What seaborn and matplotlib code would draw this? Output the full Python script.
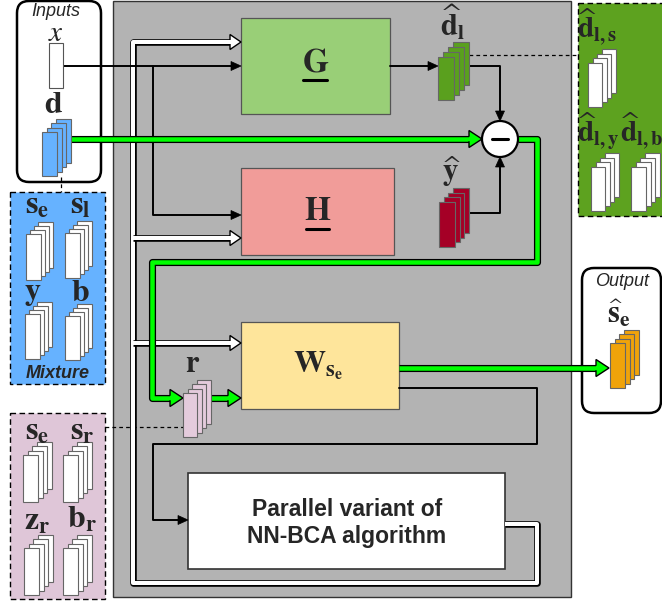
import numpy as np
import matplotlib
matplotlib.use("Agg")
import matplotlib.pyplot as plt
import matplotlib.patheffects as pe
from matplotlib.patches import Rectangle, FancyBboxPatch, Circle, Polygon
import seaborn as sns

# labels shown in the diagram
input_labels = ["Inputs", r"$x$", r"$\mathbf{d}$"]
mixture_labels = [r"$\mathbf{s}_\mathbf{e}$", r"$\mathbf{s}_\mathbf{l}$",
                  r"$\mathbf{y}$", r"$\mathbf{b}$"]
mixture_title = "Mixture"
ref_labels = [r"$\mathbf{s}_\mathbf{e}$", r"$\mathbf{s}_\mathbf{r}$",
              r"$\mathbf{z}_\mathbf{r}$", r"$\mathbf{b}_\mathbf{r}$"]
dl_labels = [r"$\widehat{\mathbf{d}}_\mathbf{l,s}$", r"$\widehat{\mathbf{d}}_\mathbf{l,y}$",
             r"$\widehat{\mathbf{d}}_\mathbf{l,b}$"]
block_labels = [r"$\mathbf{G}$", r"$\mathbf{H}$", r"$\mathbf{W}_{\mathbf{s}_\mathbf{e}}$"]
est_labels = [r"$\widehat{\mathbf{d}}_\mathbf{l}$", r"$\widehat{\mathbf{y}}$", r"$\mathbf{r}$"]
output_labels = ["Output", r"$\widehat{\mathbf{s}}_\mathbf{e}$"]
algo_label = "Parallel variant of\nNN-BCA algorithm"

sns.set_theme(style="white")
plt.rcParams["font.family"] = ["Liberation Sans", "DejaVu Sans"]
plt.rcParams["mathtext.fontset"] = "stix"

fig = plt.figure(figsize=(6.62, 6.01), dpi=100)
ax = fig.add_axes([0, 0, 1, 1])
ax.set_xlim(0, 662)
ax.set_ylim(601, 0)
ax.axis("off")

PX = 0.72  # points per pixel
GREEN = "#00ff00"


def stack(x, y, w, h, color, n=4, step=4.5, ec="#666666"):
    for i in reversed(range(n)):
        ax.add_patch(Rectangle((x + i * step, y - i * step), w, h, fc=color,
                               ec=ec, lw=0.8, zorder=6))


def head(p0, p1, fill, hl, hw, shaft, lw=1.0, z=5):
    d = (p1 - p0) / np.linalg.norm(p1 - p0)
    n = np.array([-d[1], d[0]])
    b = p1 - d * hl
    pts = [b + n * shaft / 2, b + n * hw / 2, p1, b - n * hw / 2, b - n * shaft / 2]
    ax.add_patch(Polygon(pts, closed=False, fc=fill, ec="black", lw=lw,
                         joinstyle="miter", zorder=z))
    return b


def fat(pts, fill, w=4.5, hl=13, hw=17, arrow=True, z=4):
    pts = np.array(pts, float)
    line = pts.copy()
    if arrow:
        b = head(pts[-2], pts[-1], fill, hl, hw, w, z=z + 0.5)
        d = (pts[-1] - pts[-2]) / np.linalg.norm(pts[-1] - pts[-2])
        line[-1] = b + d * 1.5
    ax.plot(line[:, 0], line[:, 1], color=fill, lw=w * PX, solid_capstyle="butt",
            solid_joinstyle="round", zorder=z,
            path_effects=[pe.Stroke(linewidth=(w + 2.6) * PX, foreground="black"),
                          pe.Normal()])


def thin(pts, arrow=True):
    pts = np.array(pts, float)
    line = pts.copy()
    if arrow:
        d = (pts[-1] - pts[-2]) / np.linalg.norm(pts[-1] - pts[-2])
        n = np.array([-d[1], d[0]])
        b = pts[-1] - d * 10
        ax.add_patch(Polygon([pts[-1], b + n * 4.5, b - n * 4.5], fc="black",
                             ec="black", lw=0.5, zorder=5))
        line[-1] = b + d * 1
    ax.plot(line[:, 0], line[:, 1], color="black", lw=1.4, zorder=4,
            solid_joinstyle="round")


def dashed(pts):
    pts = np.array(pts, float)
    ax.plot(pts[:, 0], pts[:, 1], color="black", lw=0.9, ls=(0, (3, 2.5)), zorder=3)


# main grey area
ax.add_patch(Rectangle((113, 1), 458, 596, fc="#b3b3b3", ec="#333333", lw=1, zorder=1))

# side panels
ax.add_patch(FancyBboxPatch((17, 1), 84, 181, boxstyle="round,pad=0,rounding_size=12",
                            fc="white", ec="black", lw=1.8, zorder=2))
ax.add_patch(Rectangle((10, 192), 95, 192, fc="#66b2ff", ec="black", lw=1,
                       ls=(0, (4, 2.5)), zorder=2))
ax.add_patch(Rectangle((10, 413), 95, 186, fc="#dfc6d8", ec="black", lw=1,
                       ls=(0, (4, 2.5)), zorder=2))
ax.add_patch(Rectangle((578, 3), 86, 213, fc="#5da21f", ec="black", lw=1,
                       ls=(0, (4, 2.5)), zorder=2))
ax.add_patch(FancyBboxPatch((582, 268), 79, 145, boxstyle="round,pad=0,rounding_size=12",
                            fc="white", ec="black", lw=1.8, zorder=2))

# blocks
ax.add_patch(Rectangle((241, 18), 149, 96, fc="#99cf77", ec="#555555", lw=0.9, zorder=3))
ax.add_patch(Rectangle((241, 168), 153, 87, fc="#f19c99", ec="#555555", lw=0.9, zorder=3))
ax.add_patch(Rectangle((241, 322), 158, 87, fc="#fee59b", ec="#555555", lw=0.9, zorder=3))
ax.add_patch(Rectangle((188, 473), 317, 96, fc="white", ec="#333333", lw=1.2, zorder=3))
ax.text(316, 63, block_labels[0], ha="center", va="center", fontsize=24, zorder=7)
ax.plot([303, 327], [80, 80], color="black", lw=2.2, zorder=7)
ax.text(318, 211, block_labels[1], ha="center", va="center", fontsize=24, zorder=7)
ax.plot([306, 329], [229, 229], color="black", lw=2.2, zorder=7)
ax.text(318, 366, block_labels[2], ha="center", va="center", fontsize=23, zorder=7)
ax.text(347, 523, algo_label, ha="center", va="center", fontsize=16.5, fontweight="bold",
        linespacing=1.2, zorder=7)

# minus node
ax.add_patch(Circle((500, 139), 18, fc="white", ec="black", lw=1.6, zorder=6))
ax.plot([492, 508], [139, 139], color="black", lw=2.2, zorder=7)

# white (outlined) feedback path
fat([(505, 524), (537, 524), (537, 583), (133, 583), (133, 42), (241, 42)], "white",
    w=4, hl=11, hw=15)
fat([(133, 238), (241, 238)], "white", w=4, hl=11, hw=15)
fat([(133, 343), (241, 343)], "white", w=4, hl=11, hw=15)

# thin black connections
thin([(63, 66), (241, 66)])
thin([(153, 66), (153, 215), (241, 215)])
thin([(390, 66), (438, 66)])
thin([(469, 66), (500, 66), (500, 121)])
thin([(455, 213), (500, 213), (500, 157)])
thin([(399, 388), (537, 388), (537, 444), (153, 444), (153, 520), (188, 520)])

# green signal path
fat([(70, 139), (482, 139)], GREEN)
fat([(518, 139), (537, 139), (537, 262), (152, 262), (152, 398), (183, 398)], GREEN)
fat([(210, 398), (241, 398)], GREEN)
fat([(399, 368), (609, 368)], GREEN)

# dashed links
dashed([(61, 177), (61, 192)])
dashed([(105, 427), (183, 427)])
dashed([(469, 55), (578, 55)])

# inputs
ax.text(56, 11, input_labels[0], ha="center", va="center", fontsize=13, style="italic", zorder=7)
ax.text(56, 33, input_labels[1], ha="center", va="center", fontsize=21, zorder=7)
ax.add_patch(Rectangle((49, 43), 14, 45, fc="white", ec="#555555", lw=0.8, zorder=6))
ax.text(54, 105, input_labels[2], ha="center", va="center", fontsize=23, zorder=7)
stack(42, 132, 15, 44, "#66b2ff")

# mixture panel
stack(26, 234, 15, 46, "white", step=4)
stack(65, 233, 15, 45, "white", step=4)
stack(25, 314, 15, 45, "white", step=4)
stack(65, 316, 15, 44, "white", step=4)
for (tx, ty), s in zip([(37, 206), (80, 206), (33, 293), (80, 293)], mixture_labels):
    ax.text(tx, ty, s, ha="center", va="center", fontsize=23, zorder=7)
ax.text(58, 373, mixture_title, ha="center", va="center", fontsize=13, style="italic",
        fontweight="bold", zorder=7)

# reference panel
stack(23, 455, 15, 47, "white")
stack(63, 455, 15, 47, "white")
stack(24, 548, 15, 47, "white")
stack(63, 548, 15, 47, "white")
for (tx, ty), s in zip([(37, 432), (82, 432), (37, 522), (82, 520)], ref_labels):
    ax.text(tx, ty, s, ha="center", va="center", fontsize=23, zorder=7)

# estimates panel
stack(588, 63, 14, 44, "white", step=4.7)
stack(591, 167, 14, 44, "white", step=4.7)
stack(631, 167, 15, 44, "white", step=4.7)
ax.text(577, 27, dl_labels[0], ha="left", va="center", fontsize=21, zorder=7)
ax.text(577, 131, dl_labels[1], ha="left", va="center", fontsize=21, zorder=7)
ax.text(620, 131, dl_labels[2], ha="left", va="center", fontsize=21, zorder=7)

# intermediate estimates
stack(438, 57, 16, 43, "#5aa01e", step=5)
ax.text(452, 23, est_labels[0], ha="center", va="center", fontsize=22, zorder=7)
stack(439, 202, 16, 45, "#a50026", step=4.7)
ax.text(452, 172, est_labels[1], ha="center", va="center", fontsize=22, zorder=7)
stack(183, 393, 14, 44, "#e4cbdc", step=4.5)
ax.text(193, 364, est_labels[2], ha="center", va="center", fontsize=22, zorder=7)

# output
ax.text(622, 281, output_labels[0], ha="center", va="center", fontsize=13, style="italic", zorder=7)
ax.text(619, 314, output_labels[1], ha="center", va="center", fontsize=22, zorder=7)
stack(610, 343, 15, 45, "#f0a30a")

fig.savefig("out.png", dpi=100)
